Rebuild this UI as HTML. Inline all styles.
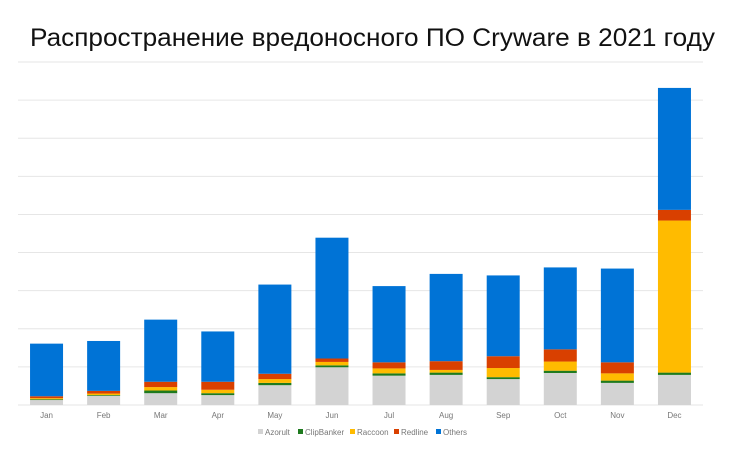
<!DOCTYPE html>
<html><head><meta charset="utf-8"><style>
html,body{margin:0;padding:0;background:#fff;}
svg{display:block;font-family:"Liberation Sans","DejaVu Sans",sans-serif;}
</style></head><body>
<svg id="chart" width="745" height="449" viewBox="0 0 745 449">
<text x="30" y="46" font-size="25" fill="#111" textLength="685" lengthAdjust="spacingAndGlyphs">Распространение вредоносного ПО Cryware в 2021 году</text>
<g id="grid"></g><g id="bars"></g><g id="xlabels"></g><g id="legend"></g>
</svg>
<script>
const categories=["Jan","Feb","Mar","Apr","May","Jun","Jul","Aug","Sep","Oct","Nov","Dec"];
const azorult=[13,24,31,26,52,99,77,79,68,84,58,79];
const clipbanker=[2,2,7,5,6,5,6,6,5,6,6,6];
const raccoon=[3,4,9,9,10,9,13,7,24,24,19,399];
const redline=[5,7,14,21,14,9,16,23,31,32,29,28];
const others=[138,131,163,132,234,317,200,229,212,215,246,320];
const yTicks=[0,100,200,300,400,500,600,700,800,900];
const seriesNames=["Azorult","ClipBanker","Raccoon","Redline","Others"];
const seriesData=[azorult,clipbanker,raccoon,redline,others];
const colors=["#d3d3d3","#1e7a1e","#ffbb00","#d94000","#0073d6"];
const NS="http://www.w3.org/2000/svg";
const x0=18,x1=703,yBase=405,yTop=62,yMax=900;
const y=v=>yBase-(v/yMax)*(yBase-yTop);
const step=(x1-x0)/categories.length;
const xc=i=>x0+step*(i+0.5);
const bw=33;
function mk(t,a){const e=document.createElementNS(NS,t);for(const k in a)e.setAttribute(k,a[k]);return e;}
const grid=document.getElementById('grid');
yTicks.forEach(t=>{const l=mk('line',{x1:x0,x2:x1,y1:y(t),y2:y(t),stroke:'#e6e6e6','stroke-width':1});


grid.appendChild(l);});
const bars=document.getElementById('bars');
categories.forEach((c,i)=>{let acc=0;
seriesData.forEach((s,k)=>{const v=s[i];const r=mk('rect',{x:xc(i)-bw/2,y:y(acc+v),width:bw,height:y(acc)-y(acc+v),fill:colors[k]});


bars.appendChild(r);acc+=v;});
const t=mk('text',{x:xc(i),y:418,'font-size':8,fill:'#777','text-anchor':'middle'});t.textContent=c;


document.getElementById('xlabels').appendChild(t);});
const lg=document.getElementById('legend');
const lx=[258,298,350,394,436];
seriesNames.forEach((n,k)=>{const g=mk('g',{});


g.appendChild(mk('rect',{x:lx[k],y:429,width:5,height:5,fill:colors[k]}));
const t=mk('text',{x:lx[k]+7,y:435,'font-size':8,fill:'#777'});t.textContent=n;g.appendChild(t);lg.appendChild(g);});
</script>
</body></html>
